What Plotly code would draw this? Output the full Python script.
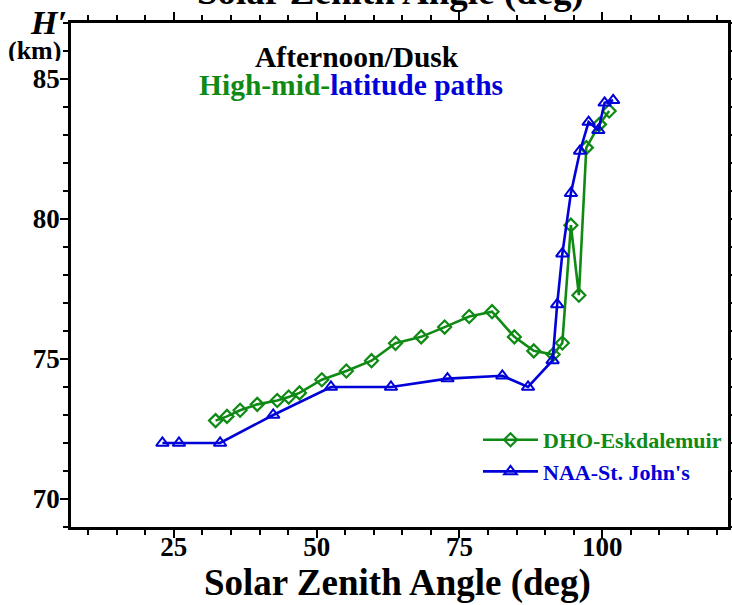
import plotly.graph_objects as go

# Solar zenith angle (deg) and reflection height H' (km)
dho_sza = [32.3, 34.3, 36.6, 39.6, 43.1, 45.1, 47.0, 50.9, 55.2, 59.6, 63.8, 68.3,
           72.4, 76.7, 80.7, 84.6, 88.0, 91.4, 93.0, 94.5, 95.9, 97.2, 99.5, 101.2]
dho_h = [72.8, 72.95, 73.17, 73.38, 73.52, 73.64, 73.79, 74.26, 74.57, 74.94, 75.56, 75.79,
         76.14, 76.52, 76.69, 75.79, 75.29, 75.16, 75.57, 79.78, 77.28, 82.55, 83.38, 83.86]

naa_sza = [23.0, 25.9, 33.1, 42.4, 52.5, 63.0, 72.9, 82.5, 87.0, 91.3, 92.1, 93.0,
           94.5, 96.1, 97.6, 99.3, 100.4, 101.9]
naa_h = [72.0, 72.0, 72.0, 73.0, 74.0, 74.0, 74.3, 74.4, 74.0, 74.95, 76.95, 78.76,
         80.92, 82.43, 83.46, 83.17, 84.15, 84.24]

x_range = [7, 122]
y_range = [69, 87]

GREEN = "#0f8a14"
BLUE = "#0000d8"
FONT = "Liberation Serif"

fig = go.Figure()
fig.add_trace(go.Scatter(
    x=dho_sza, y=dho_h, mode="lines+markers",
    name=f"<span style='color:{GREEN}'>DHO-Eskdalemuir</span>",
    line=dict(color=GREEN, width=2.6),
    marker=dict(symbol="diamond-open", size=10, color=GREEN, line=dict(width=2.2, color=GREEN)),
))
fig.add_trace(go.Scatter(
    x=naa_sza, y=naa_h, mode="lines+markers",
    name=f"<span style='color:{BLUE}'>NAA-St. John's</span>",
    line=dict(color=BLUE, width=2.6),
    marker=dict(symbol="triangle-up-open", size=11, color=BLUE, line=dict(width=2, color=BLUE)),
))

axis_common = dict(
    showline=True, linecolor="black", linewidth=2.5, mirror="ticks",
    ticks="outside", ticklen=8, tickwidth=2, tickcolor="black",
    showgrid=False, zeroline=False, automargin=False,
    tickfont=dict(family=FONT, size=27, color="black", weight="bold"),
)

fig.update_xaxes(
    range=x_range, tick0=0, dtick=25, ticklabelstandoff=-14,
    minor=dict(ticks="outside", ticklen=5, tickwidth=2, tickcolor="black", dtick=5, showgrid=False),
    **axis_common,
)
fig.update_yaxes(
    range=y_range, tick0=0, dtick=5, ticklabelstandoff=-5,
    minor=dict(ticks="outside", ticklen=5, tickwidth=2, tickcolor="black", dtick=1, showgrid=False),
    **axis_common,
)

H_PLOT = 605 - 23 - 78
W_PLOT = 732 - 71 - 4


def px_x(p):
    return (p - 71) / W_PLOT


def px_y(p):
    return (527 - p) / H_PLOT


annotations = [
    dict(text="<b>Afternoon/Dusk</b>", x=px_x(357), y=px_y(57), height=24,
         font=dict(family=FONT, size=29.5, color="black")),
    dict(text=f"<b><span style='color:{GREEN}'>High-mid-</span>"
              f"<span style='color:{BLUE}'>latitude paths</span></b>",
         x=px_x(351), y=px_y(85), height=32,
         font=dict(family=FONT, size=29.5, color="black")),
    dict(text="<b><i>H′</i></b>", x=px_x(48), y=px_y(22), height=28,
         font=dict(family=FONT, size=34, color="black")),
    dict(text="<b>(km)</b>", x=px_x(34), y=px_y(50), height=22,
         font=dict(family=FONT, size=26, color="black")),
    # axis titles, bottom and (partly off the page) top
    dict(text="<b>Solar Zenith Angle (deg)</b>", x=px_x(397), y=px_y(583),
         font=dict(family=FONT, size=37, color="black")),
    dict(text="<b>Solar Zenith Angle (deg)</b>", x=px_x(390), y=px_y(-8),
         font=dict(family=FONT, size=37, color="black")),
]
for a in annotations:
    a.update(xref="paper", yref="paper", xanchor="center", yanchor="middle", showarrow=False)

fig.update_layout(
    width=732, height=605,
    margin=dict(l=71, r=4, t=23, b=78, autoexpand=False),
    paper_bgcolor="white", plot_bgcolor="white",
    annotations=annotations,
    showlegend=True,
    legend=dict(x=px_x(478), y=px_y(419), xanchor="left", yanchor="top",
                bgcolor="rgba(0,0,0,0)", itemwidth=55,
                font=dict(family=FONT, size=22, color="black", weight="bold")),
)

fig.write_html("out.html")
